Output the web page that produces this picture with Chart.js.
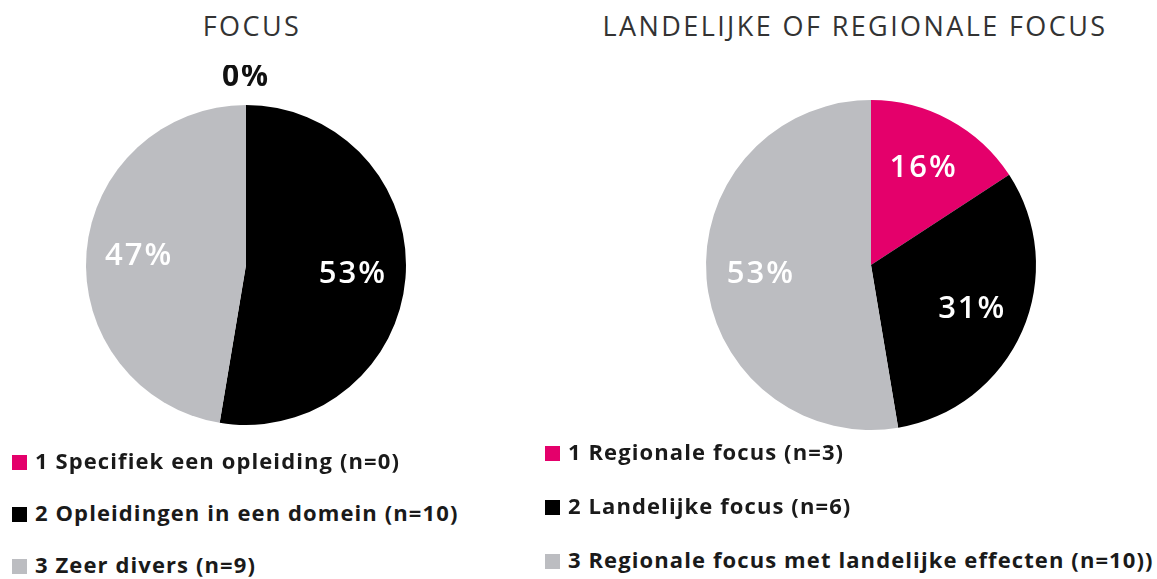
<!DOCTYPE html>
<html>
<head>
<meta charset="utf-8">
<script src="https://cdn.jsdelivr.net/npm/chart.js@4.4.1/dist/chart.umd.min.js"></script>
<style>
  body { margin: 0; background: #fff; width: 1157px; height: 579px; position: relative; overflow: hidden; }
  .title { position: absolute; font-family: "Open Sans", sans-serif; font-size: 27px; letter-spacing: 2.4px; color: #333; white-space: nowrap; transform: translateX(-50%); }
  .wrap { position: absolute; }
  .legend { position: absolute; font-family: "Open Sans", sans-serif; font-weight: 700; font-size: 22px; letter-spacing: 1.1px; color: #1a1a1a; }
  .legend div { position: absolute; white-space: nowrap; }
  .legend span { display: inline-block; width: 15px; height: 15px; margin-right: 8px; vertical-align: -1px; }
</style>
</head>
<body>
<div class="title" style="left:252px; top:7px;">FOCUS</div>
<div class="title" style="left:855px; top:7px;">LANDELIJKE OF REGIONALE FOCUS</div>
<div class="wrap" style="left:46px; top:65px; width:400px; height:400px;"><canvas id="focusChart"></canvas></div>
<div class="wrap" style="left:666px; top:60px; width:410px; height:410px;"><canvas id="regioChart"></canvas></div>
<div class="legend" id="focusLegend" style="left:12px; top:445px;"></div>
<div class="legend" id="regioLegend" style="left:545px; top:436px;"></div>
<script>
// Data
const focusLabels = ["1 Specifiek een opleiding (n=0)", "2 Opleidingen in een domein (n=10)", "3 Zeer divers (n=9)"];
const focusValues = [0, 10, 9];
const regioLabels = ["1 Regionale focus (n=3)", "2 Landelijke focus (n=6)", "3 Regionale focus met landelijke effecten (n=10))"];
const regioValues = [3, 6, 10];
const sliceColors = ["#e4006b", "#000000", "#bcbdc1"];

// percentages that add up to 100 (largest remainder)
function percents(values) {
  const total = values.reduce((a, b) => a + b, 0);
  const raw = values.map(v => v * 100 / total);
  const out = raw.map(Math.floor);
  let left = 100 - out.reduce((a, b) => a + b, 0);
  const order = raw.map((r, i) => [r - Math.floor(r), i]).sort((a, b) => b[0] - a[0]);
  for (let k = 0; k < left; k++) out[order[k][1]]++;
  return out;
}

// draw the % labels on the slices
const sliceLabels = {
  id: "sliceLabels",
  afterDatasetsDraw(chart) {
    const ctx = chart.ctx;
    const meta = chart.getDatasetMeta(0);
    const pct = percents(chart.data.datasets[0].data);
    ctx.save();
    ctx.textAlign = "center";
    ctx.textBaseline = "middle";
    ctx.letterSpacing = "2px";
    meta.data.forEach((arc, i) => {
      const p = arc.getProps(["x", "y", "startAngle", "endAngle", "outerRadius"], true);
      const mid = (p.startAngle + p.endAngle) / 2;
      let r = p.outerRadius * 0.67;
      ctx.fillStyle = "#fff";
      ctx.font = "600 31px 'Open Sans', sans-serif";
      if (pct[i] === 0) {
        r = p.outerRadius + 28;
        ctx.fillStyle = "#111";
        ctx.font = "700 30px 'Open Sans', sans-serif";
      }
      ctx.fillText(pct[i] + "%", p.x + Math.cos(mid) * r, p.y + Math.sin(mid) * r);
    });
    ctx.restore();
  }
};

function makePie(id, labels, values) {
  return new Chart(document.getElementById(id), {
    type: "pie",
    data: {
      labels: labels,
      datasets: [{ data: values, backgroundColor: sliceColors, borderWidth: 0 }]
    },
    options: {
      responsive: true,
      maintainAspectRatio: false,
      animation: false,
      layout: { padding: 40 },
      plugins: { legend: { display: false }, tooltip: { enabled: false } }
    },
    plugins: [sliceLabels]
  });
}

function makeLegend(id, labels, gap) {
  const box = document.getElementById(id);
  labels.forEach((txt, i) => {
    const row = document.createElement("div");
    row.style.top = (i * gap) + "px";
    row.innerHTML = '<span style="background:' + sliceColors[i] + '"></span>' + txt;
    box.appendChild(row);
  });
}

makePie("focusChart", focusLabels, focusValues);
makePie("regioChart", regioLabels, regioValues);
makeLegend("focusLegend", focusLabels, 52);
makeLegend("regioLegend", regioLabels, 54);
</script>
</body>
</html>
